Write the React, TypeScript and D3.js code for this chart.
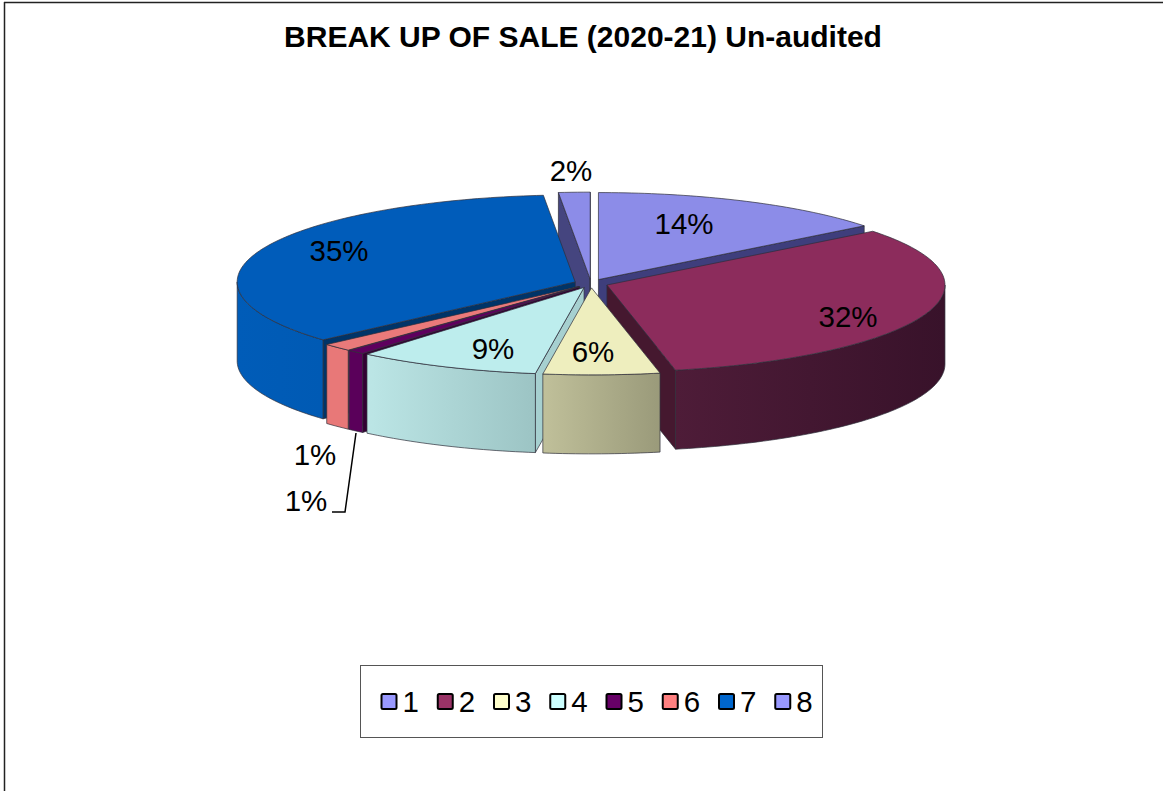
import React from "react";
import * as d3 from "d3";

const title = "BREAK UP OF SALE (2020-21) Un-audited";
const categories = ["1", "2", "3", "4", "5", "6", "7", "8"];
const shareValues = [14.4, 32.35, 5.55, 8.8, 0.85, 1.45, 35.1, 1.5];
const legendColors = ["#9999FF", "#993366", "#FFFFCC", "#CCFFFF", "#660066", "#FF8080", "#0066CC", "#9999FF"];
const topColors = ["#8C8CE8", "#8C2C5C", "#EEEEBE", "#BDEDED", "#5E005E", "#EA7A7A", "#005CBA", "#8C8CE8"];
const wallLeftColors = ["#6E6EC0", "#4E1C38", "#C0C09A", "#BCE6E6", "#5A005A", "#E87878", "#005CB8", "#6E6EC0"];
const wallRightColors = ["#6E6EC0", "#38122A", "#9A9A7A", "#9CC4C4", "#5A005A", "#E87878", "#005AB4", "#6E6EC0"];
const faceColors = ["#3E3E7C", "#45182F", "#8A8A6C", "#A6D0D0", "#330033", "#A05050", "#003468", "#45457F"];
const paintOrder = [7, 0, 6, 1, 5, 4, 3, 2];
const labelCenters: [number, number][] = [
  [684, 224], [848, 317], [593, 352], [493, 349], [306, 501], [315, 455], [339, 251], [571, 171],
];

const width = 1163;
const height = 791;
const cx = 591;
const cy = 283.5;
const rx = 338;
const ry = 87;
const depth = 79;
const explode = 17;
const labelSize = 29.5;
const fontFamily = "'Liberation Sans', Arial, sans-serif";
const edge = "#2E2E3A";

const pie = d3.pie<number>().sort(null).startAngle(0).endAngle(2 * Math.PI);
const arcs = pie(shareValues);
const lineGen = d3.line<[number, number]>();

function sliceGeometry(i: number) {
  const a = arcs[i];
  const mid = (a.startAngle + a.endAngle) / 2;
  const ax = cx + explode * Math.sin(mid);
  const ay = cy - explode * (ry / rx) * Math.cos(mid);
  const rim = (t: number): [number, number] => [ax + rx * Math.sin(t), ay - ry * Math.cos(t)];
  return { a, ax, ay, rim };
}

function arcPoints(rim: (t: number) => [number, number], s: number, e: number) {
  const n = Math.max(2, Math.ceil((e - s) / 0.02));
  return d3.range(n + 1).map((k) => rim(s + ((e - s) * k) / n));
}

function Slice({ i }: { i: number }) {
  const { a, ax, ay, rim } = sliceGeometry(i);
  const s = a.startAngle;
  const e = a.endAngle;
  const top: [number, number][] = [[ax, ay], ...arcPoints(rim, s, e)];
  const down = ([x, y]: [number, number]): [number, number] => [x, y + depth];
  const face = (t: number): [number, number][] => {
    const p = rim(t);
    return [[ax, ay], p, down(p), [ax, ay + depth]];
  };
  const showStart = Math.sin(s) < 0;
  const showEnd = Math.sin(e) > 0;
  const ws = Math.max(s, Math.PI / 2);
  const we = Math.min(e, (3 * Math.PI) / 2);
  const hasWall = we > ws;
  const wall = hasWall ? arcPoints(rim, ws, we) : [];
  const wallPoly = hasWall ? [...wall, ...wall.slice().reverse().map(down)] : [];
  const xs = wall.map((p) => p[0]);
  const id = `wall-${i}`;
  return (
    <g strokeLinejoin="round">
      {hasWall && (
        <defs>
          <linearGradient id={id} gradientUnits="userSpaceOnUse" x1={d3.min(xs)} x2={d3.max(xs)} y1={0} y2={0}>
            <stop offset="0" stopColor={wallLeftColors[i]} />
            <stop offset="1" stopColor={wallRightColors[i]} />
          </linearGradient>
        </defs>
      )}
      {showStart && <path d={lineGen(face(s)) + "Z"} fill={faceColors[i]} stroke={edge} strokeWidth={0.7} />}
      {showEnd && <path d={lineGen(face(e)) + "Z"} fill={faceColors[i]} stroke={edge} strokeWidth={0.7} />}
      {hasWall && <path d={lineGen(wallPoly) + "Z"} fill={`url(#${id})`} stroke={edge} strokeWidth={0.7} />}
      <path d={lineGen(top) + "Z"} fill={topColors[i]} stroke={edge} strokeWidth={0.7} />
    </g>
  );
}

const legendX = d3.scaleBand<string>().domain(categories).range([372, 822]).paddingInner(0).paddingOuter(0);

export default function App() {
  return (
    <svg
      width={width}
      height={height}
      viewBox={`0 0 ${width} ${height}`}
      style={{ position: "absolute", left: 0, top: 0, display: "block", background: "#fff" }}
      fontFamily={fontFamily}
    >
      <line x1={4} x2={width} y1={2.5} y2={2.5} stroke="#222" strokeWidth={1.5} />
      <line x1={4.5} x2={4.5} y1={2} y2={height} stroke="#222" strokeWidth={1.5} />
      <text x={583} y={47} textAnchor="middle" fontSize={30} fontWeight={700} fill="#000">
        {title}
      </text>

      {paintOrder.map((i) => (
        <Slice key={i} i={i} />
      ))}

      <polyline points="356,433 345,512 332,512" fill="none" stroke="#000" strokeWidth={1.5} />

      {shareValues.map((v, i) => (
        <text
          key={i}
          x={labelCenters[i][0]}
          y={labelCenters[i][1] + 9.5}
          textAnchor="middle"
          fontSize={labelSize}
          fill="#000"
        >
          {`${Math.round(v)}%`}
        </text>
      ))}

      <rect x={360.5} y={665.5} width={462} height={72} fill="#fff" stroke="#555" strokeWidth={1} />
      {categories.map((c, i) => {
        const x = legendX(c)! + 9.5;
        return (
          <g key={c}>
            <rect x={x} y={694} width={15} height={15} rx={1.5} fill={legendColors[i]} stroke="#000" strokeWidth={2} />
            <text x={x + 21} y={711.5} fontSize={labelSize} fill="#000">
              {c}
            </text>
          </g>
        );
      })}
    </svg>
  );
}
